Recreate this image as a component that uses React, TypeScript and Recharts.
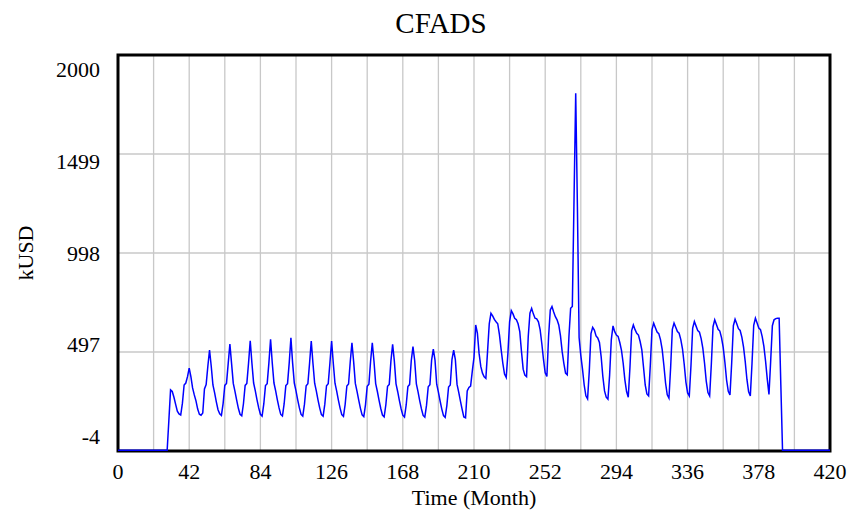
import { LineChart, Line, XAxis, YAxis, CartesianGrid, ReferenceArea, Label } from 'recharts';

// CFADS (kUSD) per month
const cfadsM0to59 = [
  0, 0, 0, 0, 0, 0, 0, 0, 0, 0, 0, 0, 0, 0, 0, 0, 0, 0, 0, 0, 0, 0, 0, 0, 0, 0, 0, 0, 0, 0,
  150, 305, 297, 268, 232, 198, 184, 178, 238, 330, 340, 372, 415, 372, 315, 280, 250, 208, 182, 177,
  188, 310, 332, 425, 507, 425, 330, 290, 245, 205,
];
const cfadsM60to119 = [
  184, 176, 236, 328, 338, 438, 537, 438, 338, 298,
  253, 212, 182, 174, 235, 328, 338, 440, 554, 440,
  340, 300, 255, 214, 182, 173, 234, 327, 337, 441,
  561, 441, 340, 300, 255, 214, 181, 173, 234, 327,
  337, 442, 569, 442, 340, 300, 255, 214, 181, 172,
  233, 326, 336, 440, 553, 440, 339, 299, 254, 213,
];
const cfadsM120to179 = [
  180, 172, 233, 326, 336, 440, 553, 440, 339, 299,
  254, 213, 180, 171, 232, 325, 335, 448, 544, 448,
  338, 298, 253, 212, 179, 170, 231, 324, 334, 450,
  544, 450, 337, 297, 252, 211, 178, 169, 230, 323,
  333, 452, 536, 452, 336, 296, 251, 210, 177, 168,
  229, 322, 332, 454, 524, 454, 335, 295, 250, 209,
];
const cfadsM180to239 = [
  176, 167, 228, 321, 331, 456, 512, 456, 334, 294,
  249, 208, 175, 166, 227, 320, 330, 458, 507, 458,
  333, 293, 248, 207, 168, 164, 300, 318, 325, 400,
  470, 634, 592, 490, 424, 390, 372, 364, 500, 640,
  693, 680, 662, 650, 640, 585, 510, 440, 385, 368,
  490, 650, 706, 690, 668, 660, 640, 600, 500, 410,
];
const cfadsM240to299 = [
  380, 372, 575, 693, 718, 690, 668, 665, 650, 610,
  540, 458, 392, 373, 575, 710, 727, 700, 676, 660,
  634, 580, 500, 440, 390, 382, 575, 718, 727, 1266,
  1806, 1232, 570, 480, 410, 330, 275, 260, 400, 590,
  622, 608, 578, 568, 545, 474, 373, 300, 268, 258,
  380, 560, 629, 600, 583, 576, 545, 505, 440, 356,
];
const cfadsM300to359 = [
  297, 268, 420, 605, 634, 610, 592, 583, 550, 508,
  420, 330, 285, 275, 430, 610, 643, 620, 598, 590,
  560, 510, 430, 340, 280, 263, 420, 612, 643, 622,
  600, 592, 560, 512, 435, 345, 290, 275, 430, 618,
  651, 628, 605, 597, 565, 515, 440, 350, 292, 275,
  435, 625, 660, 636, 612, 603, 570, 520, 445, 355,
];
const cfadsM360to420 = [
  298, 280, 440, 630, 663, 640, 615, 606, 572, 522,
  448, 358, 295, 275, 440, 632, 668, 644, 618, 610,
  575, 525, 450, 360, 282, 450, 630, 660, 666, 668,
  668, 330, 0, 0, 0, 0, 0, 0, 0, 0,
  0, 0, 0, 0, 0, 0, 0, 0, 0, 0,
  0, 0, 0, 0, 0, 0, 0, 0, 0, 0, 0,
];

const xTicks = [0, 21, 42, 63, 84, 105, 126, 147, 168, 189, 210, 231, 252, 273, 294, 315, 336, 357, 378, 399, 420];
const yTicks = [-4, 497, 998, 1499, 2000];

const data = [
  ...cfadsM0to59,
  ...cfadsM60to119,
  ...cfadsM120to179,
  ...cfadsM180to239,
  ...cfadsM240to299,
  ...cfadsM300to359,
  ...cfadsM360to420,
].map((cfads, month) => ({ month, cfads }));

const FONT = '"Liberation Serif", "Times New Roman", serif';

const XTick = ({ x, y, payload }: any) => {
  if (payload.value % 42 !== 0) return <g />;
  return (
    <text x={x} y={y + 28} textAnchor="middle" fontSize={22} fontFamily={FONT} fill="#000">
      {payload.value}
    </text>
  );
};

// Vensim squeezes the value labels slightly toward the middle of the axis
const YTick = ({ x, y, payload }: any) => {
  const shift = (253 - y) * 0.075;
  return (
    <text x={x} y={y + shift} textAnchor="end" dominantBaseline="central" fontSize={22} fontFamily={FONT} fill="#000">
      {payload.value}
    </text>
  );
};

const YLabel = ({ viewBox }: any) => {
  const cx = viewBox.x + 25;
  const cy = viewBox.y + viewBox.height / 2;
  return (
    <text
      x={cx}
      y={cy}
      transform={`rotate(-90, ${cx}, ${cy})`}
      textAnchor="middle"
      dominantBaseline="central"
      fontSize={22}
      fontFamily={FONT}
      fill="#000"
    >
      kUSD
    </text>
  );
};

export default function App() {
  return (
    <div style={{ position: 'absolute', left: 0, top: 0, width: 851, height: 512, background: '#fff' }}>
      <div
        style={{
          position: 'absolute',
          top: 9,
          left: 0,
          width: 882,
          textAlign: 'center',
          fontFamily: FONT,
          fontSize: 29,
          lineHeight: '29px',
          color: '#000',
        }}
      >
        CFADS
      </div>
      <LineChart width={851} height={512} data={data} margin={{ top: 55, right: 21, bottom: 0, left: 0 }}>
        <CartesianGrid stroke="#c8c8c8" strokeWidth={1.3} />
        <XAxis
          dataKey="month"
          type="number"
          domain={[0, 420]}
          ticks={xTicks}
          interval={0}
          height={61}
          axisLine={false}
          tickLine={false}
          tickSize={0}
          tickMargin={0}
          tick={<XTick />}
        >
          <Label
            value="Time (Month)"
            position="insideBottom"
            offset={7}
            style={{ fontFamily: FONT, fontSize: 22, fill: '#000' }}
          />
        </XAxis>
        <YAxis
          type="number"
          domain={[-4, 2000]}
          ticks={yTicks}
          interval={0}
          width={118}
          axisLine={false}
          tickLine={false}
          tickSize={0}
          tickMargin={18}
          allowDataOverflow
          tick={<YTick />}
        >
          <Label content={<YLabel />} position="insideLeft" />
        </YAxis>
        <ReferenceArea
          x1={0}
          x2={420}
          y1={-4}
          y2={2000}
          fill="none"
          fillOpacity={0}
          stroke="#000"
          strokeWidth={3}
          ifOverflow="visible"
        />
        <Line
          type="linear"
          dataKey="cfads"
          stroke="#0000ff"
          strokeWidth={1.5}
          dot={false}
          isAnimationActive={false}
        />
      </LineChart>
    </div>
  );
}
